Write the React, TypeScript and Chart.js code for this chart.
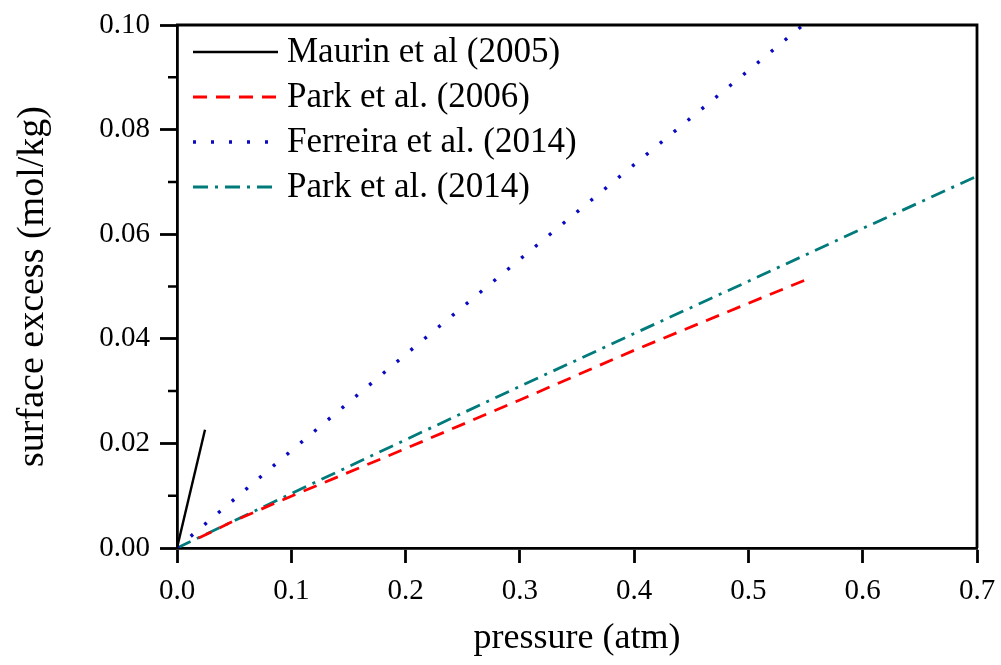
import React, { useEffect, useRef } from "react";
import { Chart, registerables } from "chart.js";

Chart.register(...registerables);

const seriesNames = ["Maurin et al (2005)", "Park et al. (2006)", "Ferreira et al. (2014)", "Park et al. (2014)"];

const maurinP = [0, 0.0245];
const maurinQ = [0, 0.0226];

const park2006P = [0.019, 0.05, 0.1, 0.2, 0.3, 0.4, 0.5, 0.555];
const park2006Q = [0.0019, 0.0052, 0.0099, 0.0190, 0.0283, 0.0378, 0.0468, 0.0517];

const ferreiraP = [0, 0.1, 0.2, 0.3, 0.4, 0.5, 0.55];
const ferreiraQ = [0, 0.0186, 0.0370, 0.0552, 0.0733, 0.0913, 0.1004];

const park2014P = [0, 0.1, 0.2, 0.3, 0.4, 0.5, 0.6, 0.7];
const park2014Q = [0, 0.0104, 0.0207, 0.0309, 0.0410, 0.0510, 0.0611, 0.0711];

const xTicks = [0, 0.1, 0.2, 0.3, 0.4, 0.5, 0.6, 0.7];
const yTicks = [0, 0.02, 0.04, 0.06, 0.08, 0.1];
const yMinorTicks = [0.01, 0.03, 0.05, 0.07, 0.09];

const FONT = "'Liberation Serif', 'Times New Roman', serif";

const zip = (xs: number[], ys: number[]) => xs.map((x, i) => ({ x, y: ys[i] }));

export default function App() {
  const ref = useRef<HTMLCanvasElement | null>(null);

  useEffect(() => {
    document.body.style.margin = "0";
    const canvas = ref.current;
    if (!canvas) return;

    const framePlugin = {
      id: "frameAndLegend",
      afterDraw(chart: any) {
        const { ctx, chartArea } = chart;
        const { left, right, top, bottom } = chartArea;
        ctx.save();
        ctx.strokeStyle = "#000";
        ctx.lineWidth = 2.8;
        ctx.beginPath();
        ctx.moveTo(left - 1, top);
        ctx.lineTo(right, top);
        ctx.lineTo(right, bottom);
        ctx.stroke();
        // minor y ticks
        const ys = chart.scales.y;
        ctx.lineWidth = 2.5;
        ctx.beginPath();
        yMinorTicks.forEach((v) => {
          const py = ys.getPixelForValue(v);
          ctx.moveTo(left - 9, py);
          ctx.lineTo(left, py);
        });
        ctx.stroke();
        // legend
        const rowStart = top + 27;
        const rowGap = 45;
        const x0 = left + 16;
        const x1 = left + 101;
        ctx.font = `35px ${FONT}`;
        ctx.textBaseline = "middle";
        ctx.fillStyle = "#000";
        chart.data.datasets.forEach((ds: any, i: number) => {
          const y = rowStart + i * rowGap;
          ctx.save();
          ctx.strokeStyle = ds.borderColor;
          ctx.lineWidth = ds.borderWidth;
          ctx.setLineDash(ds.borderDash || []);
          ctx.lineCap = ds.borderCapStyle || "butt";
          ctx.beginPath();
          ctx.moveTo(x0, y);
          ctx.lineTo(x1, y);
          ctx.stroke();
          ctx.restore();
          ctx.fillText(ds.label, x1 + 9, y + 1);
        });
        ctx.restore();
      },
    };

    const chart = new Chart(canvas, {
      type: "line",
      data: {
        datasets: [
          {
            label: seriesNames[0],
            data: zip(maurinP, maurinQ),
            borderColor: "#000000",
            borderWidth: 2.4,
            pointRadius: 0,
          },
          {
            label: seriesNames[1],
            data: zip(park2006P, park2006Q),
            borderColor: "#ff0000",
            borderWidth: 2.8,
            borderDash: [14, 9],
            pointRadius: 0,
          },
          {
            label: seriesNames[2],
            data: zip(ferreiraP, ferreiraQ),
            borderColor: "#0a0ac0",
            borderWidth: 3.4,
            borderDash: [3, 15],
            pointRadius: 0,
          },
          {
            label: seriesNames[3],
            data: zip(park2014P, park2014Q),
            borderColor: "#007a7a",
            borderWidth: 2.8,
            borderDash: [15, 7, 3, 7],
            pointRadius: 0,
          },
        ] as any,
      },
      options: {
        animation: false,
        responsive: false,
        layout: { padding: { left: 0, top: 25, right: 24, bottom: 0 } },
        plugins: {
          legend: { display: false },
          tooltip: { enabled: false },
        },
        scales: {
          x: {
            type: "linear",
            min: 0,
            max: 0.7,
            afterFit: (s: any) => {
              s.height = 117;
              s.paddingLeft = 0;
              s.paddingRight = 0;
            },
            afterBuildTicks: (s: any) => {
              s.ticks = xTicks.map((v) => ({ value: v }));
            },
            ticks: {
              font: { family: FONT, size: 29 },
              color: "#000",
              padding: 11,
              maxRotation: 0,
              callback: (v: any) => Number(v).toFixed(1),
            },
            grid: {
              drawOnChartArea: false,
              drawTicks: true,
              tickLength: 15,
              tickColor: "#000",
              tickWidth: 2.8,
            },
            border: { display: true, color: "#000", width: 2.8 },
            title: {
              display: true,
              text: "pressure (atm)",
              font: { family: FONT, size: 36, lineHeight: 1 },
              color: "#000",
              padding: { top: 0, bottom: 8 },
            },
          },
          y: {
            type: "linear",
            min: 0,
            max: 0.1,
            afterFit: (s: any) => {
              s.width = 177;
              s.paddingTop = 0;
              s.paddingBottom = 0;
            },
            afterBuildTicks: (s: any) => {
              s.ticks = yTicks.map((v) => ({ value: v }));
            },
            ticks: {
              font: { family: FONT, size: 29 },
              color: "#000",
              padding: 10,
              callback: (v: any) => Number(v).toFixed(2),
            },
            grid: {
              drawOnChartArea: false,
              drawTicks: true,
              tickLength: 17,
              tickColor: "#000",
              tickWidth: 2.8,
            },
            border: { display: true, color: "#000", width: 2.8 },
            title: {
              display: true,
              text: "surface excess (mol/kg)",
              font: { family: FONT, size: 38, lineHeight: 1 },
              color: "#000",
              padding: { top: 14, bottom: 0 },
            },
          },
        },
      },
      plugins: [framePlugin],
    });

    return () => chart.destroy();
  }, []);

  return <canvas ref={ref} width={1001} height={665} style={{ display: "block" }} />;
}
